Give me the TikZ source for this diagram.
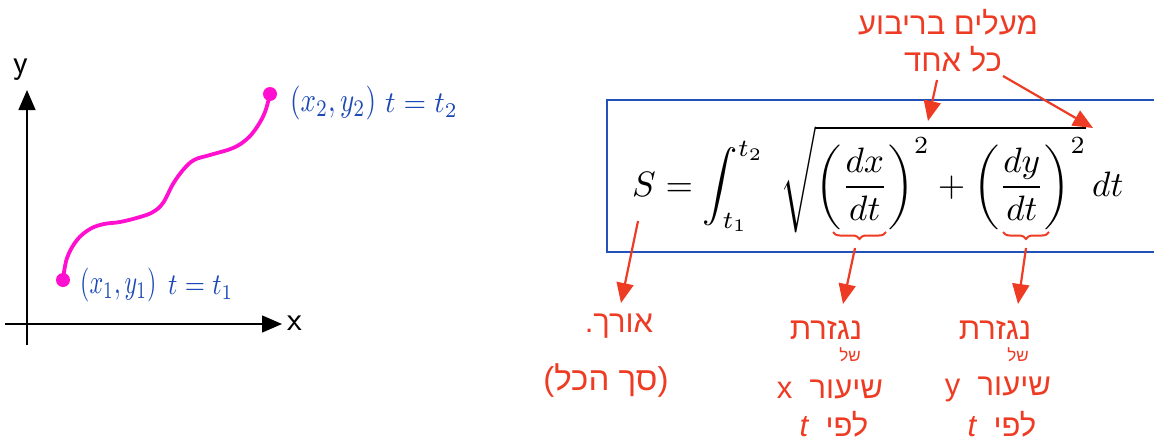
\documentclass[tikz,border=0pt]{standalone}
\usepackage{fontspec}
\usepackage{graphicx}
\usetikzlibrary{arrows.meta,decorations.pathreplacing}
\newfontfamily\heb[Script=Hebrew]{Liberation Sans}
\newfontfamily\lat{Liberation Sans}
\TeXXeTstate=1
\definecolor{hred}{HTML}{EE3B24}
\definecolor{hblue}{HTML}{1B49B5}
\definecolor{boxblue}{HTML}{2252B8}
\definecolor{curvemag}{HTML}{FF10D0}
\tikzset{
  axis/.style={line width=1.4pt, -{Triangle[length=20pt,width=17pt]}},
  axlab/.style={inner sep=0pt, font=\sffamily\fontsize{34}{38}\selectfont},
  curvestyle/.style={draw=curvemag, line width=3.8pt, line cap=round},
  enddot/.style={circle, fill=curvemag, minimum size=14pt, inner sep=0pt},
  bluelab/.style={inner sep=0pt, text=hblue},
  htxt/.style={inner sep=0pt, text=hred, font=\heb\fontsize{31}{36}\selectfont},
  hbig/.style={inner sep=0pt, text=hred, font=\heb\fontsize{33}{38}\selectfont},
  hsmall/.style={inner sep=0pt, text=hred, font=\heb\fontsize{17}{20}\selectfont},
  rarrow/.style={draw=hred, line width=2.2pt, -{Triangle[length=20pt,width=17pt]}},
  rbrace/.style={draw=hred, line width=2pt, decorate, decoration={brace, mirror, amplitude=7pt}},
  framebox/.style={draw=boxblue, line width=2.8pt}
}
\begin{document}
\begin{tikzpicture}[x=1pt,y=-1pt]
\useasboundingbox (0,0) rectangle (1154,447);
% axes
\coordinate (yb) at (27,345);
\coordinate (yt) at (27,90);
\coordinate (xl) at (5,324);
\coordinate (xr) at (282,324);
\draw[axis] (yb) -- (yt);
\draw[axis] (xl) -- (xr);
\node[axlab] (ylab) at (21,70) {y};
\node[axlab] (xlab) at (295,323) {x};
% curve
\draw[curvestyle] plot[smooth,tension=0.6] coordinates {(63,280) (67,258) (77,240) (90,229) (104,224) (120,222) (140,217) (153,212) (163,203) (173,184) (183,170) (194,160) (210,155) (233,148) (247,139) (257,127) (265,112) (270,94)};
\node[enddot] (p1) at (63,280) {};
\node[enddot] (p2) at (270,94) {};
\node[bluelab, anchor=west] (l1a) at (80,285) {\scalebox{2.4}[3.4]{$(x_1,y_1)$}};
\node[bluelab, anchor=west] (l1b) at (168,288) {\scalebox{2.6}[3.0]{$t=t_1$}};
\node[bluelab, anchor=west] (l2a) at (290,103) {\scalebox{2.7}[3.4]{$(x_2,y_2)$}};
\node[bluelab, anchor=west] (l2b) at (385,106) {\scalebox{2.9}[3.0]{$t=t_2$}};
% formula box
\draw[framebox] (1160,100) -- (607,100) -- (607,252) -- (1160,252);
\node[inner sep=0pt, anchor=base west] (formula) at (632,196)
  {\resizebox{491pt}{!}{$\displaystyle S=\int_{t_1}^{t_2}\;\sqrt{\left(\frac{dx}{dt}\right)^2+\left(\frac{dy}{dt}\right)^2}\,dt$}};
% top note
\node[htxt] (top1) at (948,22) {\beginR מעלים בריבוע\endR};
\node[htxt] (top2) at (953,59) {\beginR כל אחד\endR};
\coordinate (a1s) at (937,80);
\coordinate (a1e) at (928,121);
\coordinate (a2s) at (1003,76);
\coordinate (a2e) at (1093,128);
\draw[rarrow] (a1s) -- (a1e);
\draw[rarrow] (a2s) -- (a2e);
% S arrow
\coordinate (a3s) at (638,221);
\coordinate (a3e) at (621,303);
\draw[rarrow] (a3s) -- (a3e);
\node[htxt] (arc1) at (619,326) {\beginR אורך.\endR};
\node[hbig] (arc2) at (606,380) {{\lat(}\beginR סך הכל\endR{\lat)}};
% braces
\coordinate (b1l) at (833,232);
\coordinate (b1r) at (886,232);
\coordinate (b2l) at (1003,232);
\coordinate (b2r) at (1049,232);
\draw[rbrace] (b1l) -- (b1r);
\draw[rbrace] (b2l) -- (b2r);
\coordinate (a4s) at (855,248);
\coordinate (a4e) at (843,304);
\coordinate (a5s) at (1026,248);
\coordinate (a5e) at (1018,304);
\draw[rarrow] (a4s) -- (a4e);
\draw[rarrow] (a5s) -- (a5e);
% x derivative note
\node[htxt] (dx1) at (826,330) {\beginR נגזרת\endR};
\node[hsmall] (dx2) at (850,355) {\beginR של\endR};
\node[htxt] (dx3) at (830,389) {\beginR שיעור\ \ x\endR};
\node[htxt] (dx4) at (834,424) {\beginR לפי\ \ {\itshape t}\endR};
% y derivative note
\node[htxt] (dy1) at (995,330) {\beginR נגזרת\endR};
\node[hsmall] (dy2) at (1018,355) {\beginR של\endR};
\node[htxt] (dy3) at (998,389) {\beginR שיעור\ \ y\endR};
\node[htxt] (dy4) at (1002,424) {\beginR לפי\ \ {\itshape t}\endR};
\end{tikzpicture}
\end{document}
